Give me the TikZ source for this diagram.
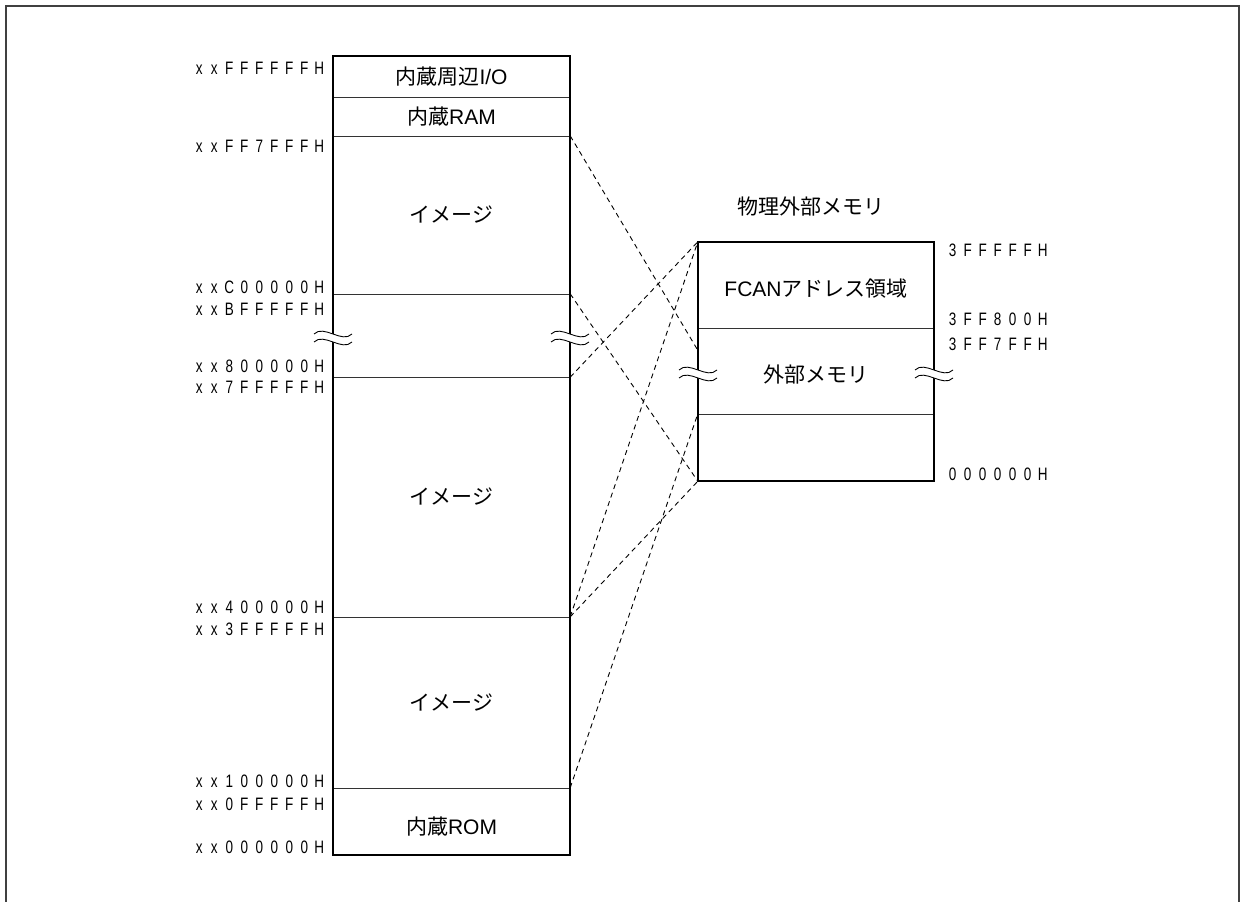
\documentclass[tikz,border=0pt]{standalone}
\usepackage{fontspec}
\usetikzlibrary{calc}
\setmainfont{Liberation Sans}
\newfontfamily\jpf{Noto Sans CJK JP}
\newfontfamily\addrf[FakeStretch=0.75]{Liberation Sans}
\makeatletter
\newcommand\hexlbl[1]{\@tfor\hx@ch:=#1\do{\makebox[15pt]{\hx@ch}}}
\makeatother
\newcommand\wavymark[2]{%
  \fill[white] (#1-19,#2-3) .. controls +(10,-10) and +(-10,10) .. (#1+19,#2-3)
     -- (#1+19,#2+5) .. controls +(-10,10) and +(10,-10) .. (#1-19,#2+5) -- cycle;
  \draw[wavy] (#1-19,#2-3) .. controls +(10,-10) and +(-10,10) .. (#1+19,#2-3);
  \draw[wavy] (#1-19,#2+5) .. controls +(10,-10) and +(-10,10) .. (#1+19,#2+5);
}
\begin{document}
\begin{tikzpicture}[x=1pt,y=-1pt,
  region/.style={draw=none, inner sep=0, minimum width=#1},
  region/.default=237,
  txt/.style={font=\fontsize{21}{23}\selectfont, inner sep=0},
  addrL/.style={anchor=east, inner sep=0, font=\addrf\fontsize{18}{18}\selectfont},
  addrR/.style={anchor=west, inner sep=0, font=\addrf\fontsize{18}{18}\selectfont},
  outerbox/.style={line width=2.5pt},
  divider/.style={line width=0.9pt, draw=black!80},
  mapline/.style={dash pattern=on 5pt off 4pt, line width=0.9pt},
  wavy/.style={line width=0.9pt},
  frame/.style={line width=1.6pt, draw=black!75}]
\useasboundingbox (0,0) rectangle (1240,902);
\draw[frame] (6,902) -- (6,6) -- (1239,6) -- (1239,902);

% left memory map
\node[region, minimum height=41]  (io)   at (451.5,76.5)  {};
\node[region, minimum height=39]  (ram)  at (451.5,116.5) {};
\node[region, minimum height=158] (img1) at (451.5,215)   {};
\node[region, minimum height=83]  (gap1) at (451.5,335.5) {};
\node[region, minimum height=240] (img2) at (451.5,497)   {};
\node[region, minimum height=171] (img3) at (451.5,702.5) {};
\node[region, minimum height=67]  (rom)  at (451.5,821.5) {};
\foreach \r in {io,ram,img1,gap1,img2,img3}
  \draw[divider] (\r.south west) -- (\r.south east);
\draw[outerbox] (io.north west) rectangle (rom.south east);

\node[txt] (tio)  at (io.center)   {{\jpf 内蔵周辺}I/O};
\node[txt] (tram) at (ram.center)  {{\jpf 内蔵}RAM};
\node[txt] (ti1)  at (img1.center) {\jpf イメージ};
\node[txt] (ti2)  at (img2.center) {\jpf イメージ};
\node[txt] (ti3)  at (img3.center) {\jpf イメージ};
\node[txt] (trom) at ([yshift=-5]rom.center) {{\jpf 内蔵}ROM};

% right memory
\node[region=236, minimum height=86] (fcan) at (816,285) {};
\node[region=236, minimum height=86] (ext)  at (816,371) {};
\node[region=236, minimum height=67] (low)  at (816,447.5) {};
\draw[divider] (fcan.south west) -- (fcan.south east);
\draw[divider] (ext.south west) -- (ext.south east);
\draw[outerbox] (fcan.north west) rectangle (low.south east);

\node[txt] (ttitle) at (811,207) {\jpf 物理外部メモリ};
\node[txt] (tfcan) at ([yshift=-4]fcan.center) {FCAN{\jpf アドレス領域}};
\node[txt] (text)  at ([yshift=-4]ext.center)  {\jpf 外部メモリ};

% mapping lines
\coordinate (extA) at ($(ext.north west)!0.26!(ext.south west)$);
\draw[mapline] (img1.north east) -- (extA);
\draw[mapline] (gap1.north east) -- (low.south west);
\draw[mapline] (gap1.south east) -- (fcan.north west);
\draw[mapline] (img3.north east) -- (fcan.north west);
\draw[mapline] (img3.north east) -- (low.south west);
\draw[mapline] (rom.north east) -- (low.north west);

% break marks
\wavymark{333}{337}
\wavymark{570}{337}
\wavymark{698}{373}
\wavymark{934}{373}

% left addresses
\node[addrL] (a1)  at (327,68.5)  {\hexlbl{xxFFFFFFH}};
\node[addrL] (a2)  at (327,146)   {\hexlbl{xxFF7FFFH}};
\node[addrL] (a3)  at (327,287)   {\hexlbl{xxC00000H}};
\node[addrL] (a4)  at (327,309)   {\hexlbl{xxBFFFFFH}};
\node[addrL] (a5)  at (327,366)   {\hexlbl{xx800000H}};
\node[addrL] (a6)  at (327,387.5) {\hexlbl{xx7FFFFFH}};
\node[addrL] (a7)  at (327,607)   {\hexlbl{xx400000H}};
\node[addrL] (a8)  at (327,629)   {\hexlbl{xx3FFFFFH}};
\node[addrL] (a9)  at (327,781)   {\hexlbl{xx100000H}};
\node[addrL] (a10) at (327,804)   {\hexlbl{xx0FFFFFH}};
\node[addrL] (a11) at (327,847.5) {\hexlbl{xx000000H}};

% right addresses
\node[addrR] (b1) at (945,250) {\hexlbl{3FFFFFH}};
\node[addrR] (b2) at (945,319) {\hexlbl{3FF800H}};
\node[addrR] (b3) at (945,344) {\hexlbl{3FF7FFH}};
\node[addrR] (b4) at (945,474) {\hexlbl{000000H}};
\end{tikzpicture}
\end{document}
